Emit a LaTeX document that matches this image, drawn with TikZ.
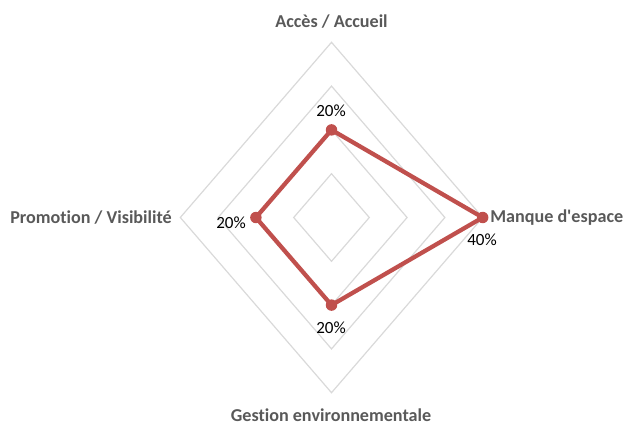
\documentclass[tikz,border=0pt]{standalone}
\usepackage{fontspec}
\newfontfamily\cfont{Carlito}[Ligatures={NoCommon,NoRequired,NoContextual}]
\definecolor{gridc}{HTML}{D9D9D9}
\definecolor{catc}{HTML}{595959}
\definecolor{serc}{HTML}{C0504D}
\begin{document}
\begin{tikzpicture}[x=0.75pt,y=-0.75pt,
  gridline/.style={draw=gridc,line width=0.9pt},
  cat/.style={text=catc,font=\cfont\bfseries\fontsize{13.6}{15}\selectfont,inner sep=0pt},
  val/.style={text=black,font=\cfont\fontsize{12.8}{14}\selectfont,inner sep=0pt},
  serline/.style={draw=serc,line width=3.2pt,line join=round}]
\useasboundingbox (0,0) rectangle (625,425);
\def\cx{331.5}\def\cy{217.5}\def\rx{37.8}\def\ry{43.8}
\foreach \k in {1,2,3,4}{
  \draw[gridline] (\cx,\cy-\k*\ry) -- (\cx+\k*\rx,\cy) -- (\cx,\cy+\k*\ry) -- (\cx-\k*\rx,\cy) -- cycle;
}
\coordinate (pa) at (\cx,\cy-2*\ry);
\coordinate (pb) at (\cx+4*\rx,\cy);
\coordinate (pc) at (\cx,\cy+2*\ry);
\coordinate (pd) at (\cx-2*\rx,\cy);
\draw[serline] (pa) -- (pb) -- (pc) -- (pd) -- cycle;
\foreach \p in {pa,pb,pc,pd}{\fill[serc] (\p) circle (4.3pt);}
\node[cat] (la) at (331.5,22) {Accès / Accueil};
\node[cat,anchor=west] (lb) at (490,218) {Manque d'espace};
\node[cat] (lc) at (331,415) {Gestion environnementale};
\node[cat,anchor=east] (ld) at (172,218) {Promotion / Visibilité};
\node[val] (va) at (331,111) {20\%};
\node[val] (vb) at (482,240) {40\%};
\node[val] (vc) at (331,328) {20\%};
\node[val] (vd) at (231,223) {20\%};
\end{tikzpicture}
\end{document}
